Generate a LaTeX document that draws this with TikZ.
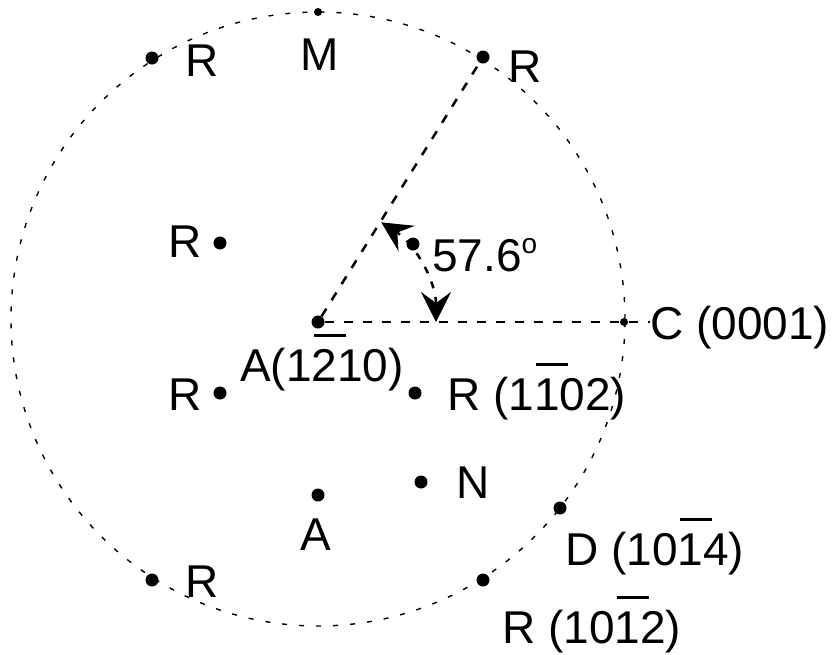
\documentclass[tikz,border=0pt]{standalone}
\usepackage{fontspec}
\setmainfont{Liberation Sans}
\usetikzlibrary{arrows.meta}
\newcommand\ovb[1]{\rlap{\hspace{2pt}\rule[44pt]{32pt}{3pt}}#1}
\begin{document}
\begin{tikzpicture}[x=1pt,y=-1pt,
  dot/.style={circle,fill=black,inner sep=0pt,minimum size=13pt},
  smalldot/.style={circle,fill=black,inner sep=0pt,minimum size=8pt},
  lbl/.style={inner sep=0pt,font=\fontsize{46}{50}\selectfont},
  ray/.style={dash pattern=on 9pt off 10pt,line width=2.5pt},
  rim/.style={dash pattern=on 5pt off 12pt,line width=1.4pt},
  ang/.style={dash pattern=on 7pt off 9pt,line width=2.5pt,
    {Stealth[length=30pt,width=30pt,inset=11pt]}-{Stealth[length=30pt,width=30pt,inset=11pt]}}]
\useasboundingbox (0,0) rectangle (838,654);
\draw[rim] (318,319) circle[radius=307pt];
% points
\node[dot] (o) at (318,322) {};
\node[smalldot] (m) at (318,12) {};
\node[dot] (r1) at (152,58) {};
\node[dot] (r2) at (483,57) {};
\node[dot] (p) at (413,244) {};
\node[smalldot] (c) at (624,322) {};
\node[dot] (r3) at (220,243) {};
\node[dot] (r4) at (220,393) {};
\node[dot] (r5) at (415,393) {};
\node[dot] (n) at (421,482) {};
\node[dot] (a) at (318,495) {};
\node[dot] (d) at (560,508) {};
\node[dot] (r6) at (483,580) {};
\node[dot] (r7) at (152,580) {};
% labels
\node[lbl,anchor=base] (lm) at (320,70) {M};
\node[lbl,anchor=base] (lr1) at (202,76) {R};
\node[lbl,anchor=base] (lr2) at (525,82) {R};
\node[lbl,anchor=base] (lr3) at (185,257) {R};
\node[lbl,anchor=base] (lr4) at (185,410) {R};
\node[lbl,anchor=base west] (lp) at (432,271) {57.6\raisebox{18pt}{\fontsize{28}{30}\selectfont o}};
\node[lbl,anchor=base west] (lc) at (650,339) {C (0001)};
\node[lbl,anchor=base west] (lo) at (240,381) {A(1\ovb{2}10)};
\node[lbl,anchor=base west] (lr5) at (447,410) {R (1\ovb{1}02)};
\node[lbl,anchor=base] (ln) at (473,498) {N};
\node[lbl,anchor=base] (la) at (316,550) {A};
\node[lbl,anchor=base west] (ld) at (565,565) {D (10\ovb{1}4)};
\node[lbl,anchor=base west] (lr6) at (502,643) {R (10\ovb{1}2)};
\node[lbl,anchor=base] (lr7) at (202,597) {R};
% connectors
\draw[ray] (o) -- (r2);
\draw[ray] (o) -- (lc.west |- o);
\draw[ang] (o.center) ++(118pt,0pt) arc[start angle=0,end angle=57.6,radius=118pt];
\end{tikzpicture}
\end{document}
